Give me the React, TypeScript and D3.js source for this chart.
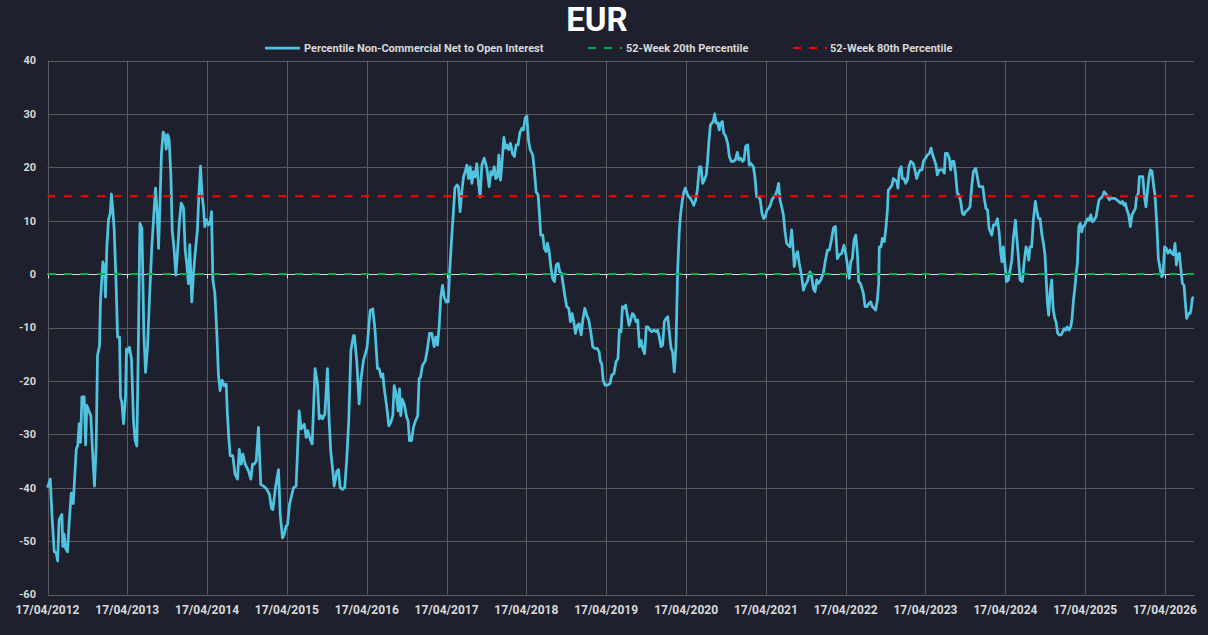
import React, { useEffect, useRef } from 'react';
import * as d3 from 'd3';

// weekly readings: [weeks since 17/04/2012, percentile value]
const percentileSeries: [number, number][] = [
  [0, -40], [1.8, -38.4], [2.9, -45], [4.4, -52], [5.7, -52.2], [6.6, -53.7], [7.6, -46], [9.4, -45], [10, -51], [10.9, -48.7],
  [11.8, -51.3], [13.1, -52], [14, -47.3], [15.5, -41], [16.8, -43], [18.8, -32.8], [19.8, -32], [20.7, -28], [21.6, -31.5], [22.5, -23],
  [24, -23], [24.9, -32], [25.7, -24.6], [27, -25.6], [28.3, -26.5], [29.4, -33], [30.7, -39.7], [31.8, -32.5], [32.7, -15.2], [34, -13.4],
  [34.6, -5.2], [36.2, 2.3], [37.3, 1.1], [37.9, -4.3], [38.8, 5.1], [39.9, 10.2], [41, 11.4], [41.8, 15], [42.7, 12], [43.6, 8.3],
  [44.9, -2.4], [45.8, -11.8], [47.1, -11.8], [47.7, -23], [48.6, -24], [49.7, -28], [51, -23], [51.6, -14], [52.7, -14.6], [53.6, -13.7],
  [54.9, -15.9], [56.2, -27.5], [57.3, -31.2], [58.4, -32.2], [59.3, -15], [60.4, 9.5], [61.7, 8.6], [63, -11.2], [64.1, -18.4], [65.4, -13.7],
  [66.7, -4.3], [68.2, 5.1], [69.3, 10.2], [70.6, 16.1], [71.7, 11.4], [72.6, 4.8], [73.4, 12], [74.5, 22.7], [75.6, 26.6], [76.7, 26],
  [77.6, 23.4], [78.6, 26.1], [79.5, 25.2], [80.6, 18.9], [81.5, 8.3], [82.8, 4.5], [83.9, -0.2], [85, 4.2], [86.3, 10.2], [87.4, 13.3],
  [88.9, 12.4], [90, 4.5], [91.1, 1.7], [92.1, -1.8], [93, 5.5], [94.3, -5.2], [95.4, 0.1], [96.7, 4.5], [98, 8.3], [98.9, 14.5],
  [100, 20.2], [101.1, 14.5], [101.9, 12.7], [102.8, 8.9], [103.9, 10.2], [105.2, 9.2], [106.3, 9.5], [107.2, 11.7], [108.1, -1.1], [109.4, -3.6],
  [110.7, -11.2], [111.7, -18.7], [112.8, -21.8], [114.1, -19.9], [115.5, -20.9], [116.8, -20.6], [117.6, -26.2], [118.5, -30.6], [119.4, -34], [121.1, -34],
  [122.6, -37.5], [124.2, -38.4], [125.3, -32.8], [126.6, -35.6], [127.7, -33.7], [129.2, -35.6], [131.4, -36.9], [132.9, -38.4], [134, -35.6], [135.1, -35.6],
  [136.4, -35], [137.9, -28.7], [139.4, -39.4], [141.2, -39.7], [143.4, -40.3], [145.1, -41.3], [146.4, -43.8], [147.3, -44.1], [149, -40], [151, -36.6],
  [152.1, -45], [153.6, -49.4], [154.7, -48.8], [156, -47.2], [156.9, -46.9], [158.2, -43.1], [160.8, -40], [162.5, -39.7], [164.5, -25.6], [165.8, -29],
  [167.8, -28.1], [169.1, -30.6], [170.1, -29.3], [171.7, -30.9], [173, -31.8], [174.9, -17.7], [176.5, -20.6], [177.6, -27.1], [178.9, -26.5], [179.7, -27.1],
  [181.3, -26.2], [183, -17.7], [184.1, -27.5], [185.2, -33.4], [186.5, -36.9], [187.4, -39.7], [189.1, -36.9], [190.2, -36.6], [191.3, -40], [192.8, -40.3],
  [194.3, -40], [195.6, -34.7], [196.9, -27.5], [198.3, -14.3], [200, -11.5], [200.6, -11.5], [202.2, -16.5], [203.7, -24.3], [204.8, -19.9], [206.5, -16.2],
  [207.8, -14.9], [208.9, -13.7], [210.9, -6.8], [212.6, -6.5], [214.1, -10.5], [215.7, -17.7], [216.8, -17.7], [218.1, -19.3], [219.2, -18.7], [220, -21.2],
  [221.8, -25], [223.1, -28.4], [224.4, -27.8], [225.7, -26.5], [226.6, -20.9], [227.9, -22.4], [229.2, -25.6], [230.1, -21.5], [230.9, -26.5], [231.8, -23.4],
  [233.1, -24.3], [234.8, -26.8], [235.7, -27.5], [236.6, -31.2], [237.9, -31.2], [239.2, -28.7], [240.5, -27.5], [242, -26.5], [242.9, -19.6], [243.8, -19.3],
  [245.1, -17.1], [247, -16.2], [248.4, -13.9], [249.7, -11.1], [251.2, -11.1], [252.7, -13.6], [253.8, -11.8], [254.9, -13.3], [256, -9.9], [257.1, -4.3],
  [258.2, -2.1], [259.3, -4.3], [260.6, -5.2], [261.9, -5.2], [262.8, 0.1], [264.1, 6.4], [265.4, 12], [266.3, 16.1], [267.6, 16.7], [268.6, 16.4],
  [269.7, 11.7], [270.8, 15.4], [271.9, 18.2], [273, 19.2], [274.1, 20.4], [275.2, 17.9], [276.3, 20.1], [277.4, 17], [278.4, 19.2], [279.5, 18.2],
  [280.6, 20.7], [281.7, 17], [282.8, 14.5], [283.9, 20.4], [285.4, 21.7], [287.2, 19.8], [288.7, 16.4], [289.8, 19.2], [290.9, 18.6], [292, 20.1],
  [293, 17.9], [294.1, 18.2], [295, 22.3], [296.1, 17.6], [297.2, 21.4], [298.3, 25.6], [299.4, 23.6], [300.4, 24.2], [301.5, 23.3], [302.6, 24.5],
  [303.9, 22.6], [305.2, 22], [306.3, 24.2], [307.6, 24.2], [308.7, 26.4], [310, 27.3], [311.1, 27], [312.2, 29.2], [313.3, 29.6], [314.4, 25.1],
  [315.5, 23.3], [317.2, 22.3], [318.3, 19.2], [319.4, 15.4], [320.7, 14.8], [321.6, 11.1], [322.4, 7.3], [323.7, 7.3], [324.8, 4.8], [325.9, 4.2],
  [326.8, 5.8], [327.9, 4.2], [329, 1.4], [330.1, -0.8], [331.4, -1.4], [332.5, 1.7], [333.8, 2], [334.9, 0.4], [336, 0.1], [337.3, -2.4],
  [338.3, -4.3], [339.4, -6.1], [340.7, -6.4], [341.8, -8.9], [342.9, -7.4], [344, -8.9], [345.1, -11.1], [346.4, -9.6], [347.5, -9.3], [348.8, -11.4],
  [349.9, -8.6], [351.2, -6.4], [352.5, -7.7], [353.8, -8.6], [355.1, -10.8], [356.4, -13.6], [357.7, -13.9], [359.3, -13.9], [360.6, -14.6], [361.4, -16.4],
  [362.3, -16.8], [363.2, -19.9], [364.5, -20.8], [366, -20.8], [367.7, -20.5], [368.8, -18.9], [370.3, -18.6], [371.6, -16.4], [372.9, -15.8], [373.8, -10.5],
  [374.9, -10.8], [375.8, -6.1], [376.8, -6.4], [377.9, -5.8], [379, -7.7], [380.1, -9.6], [381.2, -8.6], [382.3, -7.4], [383.4, -7.7], [384.7, -8.9],
  [385.8, -8.6], [386.9, -13.6], [388, -12.4], [389, -13.9], [390.3, -14.9], [391.4, -9.9], [392.5, -9.9], [393.8, -10.5], [395.1, -10.8], [396.4, -10.5],
  [397.8, -10.8], [398.8, -10.5], [399.9, -11.8], [401, -13.6], [402.1, -13.3], [403.2, -8.9], [404.3, -8.3], [405.4, -8], [406.5, -11.1], [407.6, -13.9],
  [408.6, -14.6], [409.7, -18.3], [410.8, -13.6], [411.9, 0.75], [413, 8.3], [413.9, 11.4], [415, 13.9], [416, 15.4], [416.9, 16.1], [418, 15.1],
  [419.1, 14.5], [420.2, 14.2], [421.3, 13.6], [422.4, 12.9], [423.7, 13.9], [424.8, 15.8], [426.1, 20.1], [427.2, 20.1], [428.2, 17], [429.3, 17.6],
  [430.6, 18.6], [431.5, 21.4], [432.4, 25.1], [433.3, 27.9], [434.3, 28.3], [435.2, 28.6], [436.1, 30], [437, 28.3], [438.1, 28.3], [439.1, 27],
  [440, 28.3], [441.1, 28.6], [442, 26.4], [443.3, 25.8], [444.6, 24.5], [445.7, 22], [447, 21.1], [448.3, 21.1], [449.6, 21.4], [450.9, 22.8],
  [451.8, 21.4], [453.1, 21.7], [454.2, 21.1], [455.3, 21.4], [456.3, 23.9], [457.7, 24.2], [458.7, 20.4], [459.8, 20.7], [461.4, 20.1], [462.4, 18.2],
  [463.5, 14.5], [464.8, 14.5], [465.9, 13.9], [467, 11.4], [468.1, 10.4], [469.2, 10.8], [470.3, 12], [471.4, 12.3], [472.5, 12.9], [473.5, 13.9],
  [474.9, 14.5], [475.9, 14.8], [477, 15.8], [477.9, 17], [478.8, 13.9], [479.9, 12.6], [481, 11.1], [482.1, 7.9], [483.1, 5.8], [484.2, 5.4],
  [485.3, 5.1], [486.4, 8.3], [487.3, 5.1], [488.1, 1.4], [489.2, 3.6], [490.3, 4.2], [491.4, 2], [493, -0.5], [494.1, -3], [495.2, -2.1],
  [496.7, -1.4], [498.4, 0.4], [499.5, -0.5], [500.6, -2.7], [501.7, -3.3], [502.8, -1.1], [503.9, -1.75], [505.4, -1.1], [507.1, 0.1], [508.5, 2.6],
  [509.8, 4.5], [511.1, 4.5], [512.4, 6.4], [513.7, 8.6], [515, 8.9], [516.3, 2.9], [517.6, 3.6], [519.1, 3.9], [520.6, 5.4], [521.9, 3.6],
  [523, 1.4], [524.1, -0.8], [525, 2.3], [526.1, 2.9], [527.2, 6.4], [528.3, 7.3], [529.4, 3.9], [530.2, -1.4], [531.3, -1.75], [532.4, -2.7],
  [533.3, -3.6], [534.4, -6.1], [535.5, -6.1], [537, -5.5], [538.1, -5.2], [539.2, -6.1], [540.3, -6.4], [541.3, -6.75], [542.4, -4.9], [543.3, -1.75],
  [543.7, 5.1], [544.8, 5.1], [545.7, 6.7], [547, 6.1], [548.1, 8.9], [549, 12], [549.6, 15.75], [550.7, 16.1], [552, 16.7], [552.9, 17.9],
  [554, 17.6], [555.1, 17.3], [555.9, 16.1], [556.8, 19.5], [557.9, 20.1], [558.8, 17.9], [559.9, 17.9], [560.9, 17], [562, 17.6], [563.1, 20.1],
  [564.2, 21.1], [565.9, 20.7], [567, 19.5], [568.1, 17.9], [569.2, 18.9], [570.3, 19.5], [571.6, 19.5], [572.5, 21.1], [573.8, 21.7], [575.1, 22.3],
  [576.4, 22.6], [577.5, 23.6], [578.6, 22.3], [579.7, 21.4], [580.8, 20.4], [581.6, 18.6], [582.7, 19.5], [584, 19.5], [585.1, 19.5], [586.2, 18.9],
  [586.9, 22.6], [588.2, 22.6], [589.5, 21.7], [590.3, 19.5], [591.4, 21.1], [592.5, 21.1], [593.6, 18.6], [594.7, 15.1], [595.8, 14.8], [596.9, 13.6],
  [598, 11.4], [599, 11.1], [600.1, 11.7], [601.5, 12], [603, 12.6], [604.1, 16.4], [605.2, 19.2], [606.7, 19.8], [607.8, 18.2], [608.9, 16.4],
  [610, 16.4], [611.3, 16.4], [612.3, 14.2], [613.4, 12.3], [614.5, 12], [615.4, 8.6], [617.2, 7.3], [618.3, 9.2], [619.6, 9.2], [620.9, 10.4],
  [622, 7.9], [623.1, 3.9], [623.9, 2.3], [624.8, 5.1], [625.9, 1.7], [626.8, -1.4], [628.1, -1.1], [629.2, 0.75], [630.3, 2.6], [631.3, 6.7],
  [632.7, 10.1], [633.5, 7], [634.6, 3.25], [635.7, -1.1], [637.2, -1.4], [638.3, 2], [639.6, 5.1], [640.7, 4.2], [641.4, 2.6], [642.2, 5.1],
  [643.3, 5.1], [644.4, 10.1], [645.7, 13.6], [646.6, 12], [647.7, 10.4], [648.8, 10.4], [649.9, 7.6], [651, 5.75], [652, 3.6], [652.7, -0.5],
  [653.6, -5.5], [654.4, -7.7], [655.5, -3], [656.4, -1.1], [657.3, -6.4], [658.4, -8.3], [659.2, -8.9], [660.3, -11.1], [661.4, -11.4], [662.5, -11.4],
  [663.6, -10.8], [664.5, -10.2], [665.5, -10.5], [666.6, -9.9], [667.7, -10.5], [668.8, -9.9], [669.7, -8.3], [670.6, -4.9], [671.4, -3], [672.3, -0.2],
  [673.2, 2], [674.1, 8.9], [675.1, 9.5], [676, 7.9], [676.9, 8.9], [678, 9.2], [678.8, 9.8], [679.9, 10.4], [681, 10.1], [681.9, 11.1],
  [683, 9.8], [684.1, 10.1], [685.4, 10.75], [686.5, 12.6], [687.3, 13.9], [688.4, 14.2], [689.5, 14.5], [690.6, 15.4], [691.7, 15.1], [692.8, 14.5],
  [694.1, 13.9], [695.2, 14.2], [696.2, 14.2], [697.6, 14.2], [698.9, 13.9], [700.2, 13.6], [701.5, 13.25], [702.6, 13.6], [703.7, 12.9], [704.5, 13.25],
  [705.6, 12], [706.7, 11.1], [707.8, 8.9], [708.9, 11.1], [710, 11.7], [711.1, 12.3], [711.9, 14.5], [713, 15.1], [713.7, 18.25], [714.8, 18.25],
  [715.9, 18.25], [717, 14.5], [718, 12.6], [718.9, 15.4], [720, 18.25], [720.9, 19.5], [722, 19.2], [722.8, 17], [723.9, 14.8], [725, 9.8],
  [726.1, 2.9], [727.2, 1.1], [728.3, -0.5], [729.1, -0.2], [730.2, 5.1], [731.3, 4.8], [732.4, 3.9], [733.7, 4.5], [734.8, 3.9], [735.9, 3.6],
  [737, 5.75], [737.9, 1.7], [738.7, 3.6], [739.8, 3.9], [740.9, 0.75], [741.8, -1.75], [742.9, -2.1], [743.7, -5.2], [744.6, -8.3], [745.7, -7.4],
  [746.8, -7.4], [747.4, -6.75], [748.3, -4.6], [749, -4.25],
];

const pct20 = 0;
const pct80 = 14.6;
const lastWeek = 749.4;
const tickYears = d3.range(2012, 2027);
const yTicks = [40, 30, 20, 10, 0, -10, -20, -30, -40, -50, -60];
const legendLabels = [
  'Percentile Non-Commercial Net to Open Interest',
  '52-Week 20th Percentile',
  '52-Week 80th Percentile',
];

const startDate = new Date(2012, 3, 17);
const weekToDate = (w: number) => new Date(startDate.getTime() + w * 7 * 864e5);

const App: React.FC = () => {
  const svgRef = useRef<SVGSVGElement>(null);

  useEffect(() => {
    if (!svgRef.current) return;
    const width = 1208;
    const height = 635;
    const font = 'Roboto, "Liberation Sans", Arial, sans-serif';
    const textColor = '#d9d9d9';

    const svg = d3.select(svgRef.current);
    svg.selectAll('*').remove();

    svg.append('rect').attr('width', width).attr('height', height).attr('fill', '#1e212d');

    const x = d3.scaleTime()
      .domain([startDate, weekToDate(lastWeek)])
      .range([47.5, 1194]);
    const y = d3.scaleLinear().domain([-60, 40]).range([594.5, 60.5]);

    const tickDates = tickYears.map(yr => new Date(yr, 3, 17));
    const fmt = d3.timeFormat('%d/%m/%Y');

    // grid
    const grid = svg.append('g');
    grid.selectAll('line.h')
      .data(yTicks)
      .enter().append('line')
      .attr('x1', x.range()[0]).attr('x2', x.range()[1])
      .attr('y1', d => Math.round(y(d)) + 0.5).attr('y2', d => Math.round(y(d)) + 0.5)
      .attr('stroke', '#595959').attr('stroke-width', 1);
    grid.selectAll('line.v')
      .data(tickDates)
      .enter().append('line')
      .attr('x1', d => Math.round(x(d)) + 0.5).attr('x2', d => Math.round(x(d)) + 0.5)
      .attr('y1', y(40)).attr('y2', y(-60))
      .attr('stroke', '#595959').attr('stroke-width', 1);

    // zero axis with small ticks
    const y0 = Math.round(y(0)) + 0.5;
    svg.append('line')
      .attr('x1', x.range()[0]).attr('x2', x.range()[1])
      .attr('y1', y0).attr('y2', y0)
      .attr('stroke', textColor).attr('stroke-width', 1);
    svg.append('g').selectAll('line')
      .data(tickDates)
      .enter().append('line')
      .attr('x1', d => Math.round(x(d)) + 0.5).attr('x2', d => Math.round(x(d)) + 0.5)
      .attr('y1', y0).attr('y2', y0 + 4)
      .attr('stroke', textColor);

    // y labels
    svg.append('g').selectAll('text')
      .data(yTicks)
      .enter().append('text')
      .attr('x', 36).attr('y', d => y(d)).attr('dy', '0.36em')
      .attr('text-anchor', 'end')
      .attr('font-family', font).attr('font-weight', 'bold').attr('font-size', 11)
      .attr('fill', textColor)
      .text(d => String(d));

    // x labels
    svg.append('g').selectAll('text')
      .data(tickDates)
      .enter().append('text')
      .attr('x', d => x(d)).attr('y', 614)
      .attr('text-anchor', 'middle')
      .attr('font-family', font).attr('font-weight', 'bold').attr('font-size', 12)
      .attr('fill', textColor)
      .text(d => fmt(d));

    // series
    const line = d3.line<[number, number]>()
      .x(d => x(weekToDate(d[0])))
      .y(d => y(d[1]));
    svg.append('path')
      .datum(percentileSeries)
      .attr('d', line)
      .attr('fill', 'none')
      .attr('stroke', '#4fc3e0')
      .attr('stroke-width', 2.75)
      .attr('stroke-linejoin', 'round');

    // thresholds
    const thresholds = [
      { v: pct20, color: '#00b050' },
      { v: pct80, color: '#ff0000' },
    ];
    svg.append('g').selectAll('line')
      .data(thresholds)
      .enter().append('line')
      .attr('x1', x.range()[0]).attr('x2', x.range()[1])
      .attr('y1', d => y(d.v)).attr('y2', d => y(d.v))
      .attr('stroke', d => d.color)
      .attr('stroke-width', 2)
      .attr('stroke-dasharray', '8 8.5');

    // title
    svg.append('text')
      .attr('x', 597).attr('y', 31)
      .attr('text-anchor', 'middle')
      .attr('font-family', font).attr('font-weight', 'bold').attr('font-size', 33)
      .attr('fill', '#ffffff')
      .text('EUR');

    // legend
    const legendItems = [
      { label: legendLabels[0], color: '#4fc3e0', x0: 265, x1: 300, dash: null as string | null, tx: 304 },
      { label: legendLabels[1], color: '#00b050', x0: 588, x1: 622, dash: '8 8', tx: 626 },
      { label: legendLabels[2], color: '#ff0000', x0: 793, x1: 827, dash: '8 8', tx: 830 },
    ];
    const lg = svg.append('g').selectAll('g')
      .data(legendItems)
      .enter().append('g');
    lg.append('line')
      .attr('x1', d => d.x0).attr('x2', d => d.x1)
      .attr('y1', 48).attr('y2', 48)
      .attr('stroke', d => d.color)
      .attr('stroke-width', d => (d.dash ? 2 : 2.75))
      .attr('stroke-dasharray', d => d.dash);
    lg.append('text')
      .attr('x', d => d.tx).attr('y', 48).attr('dy', '0.35em')
      .attr('font-family', font).attr('font-weight', 'bold').attr('font-size', 11)
      .attr('fill', textColor)
      .text(d => d.label);
  }, []);

  return (
    <svg ref={svgRef} width={1208} height={635} style={{ position: 'absolute', left: 0, top: 0 }}></svg>
  );
};

export default App;
